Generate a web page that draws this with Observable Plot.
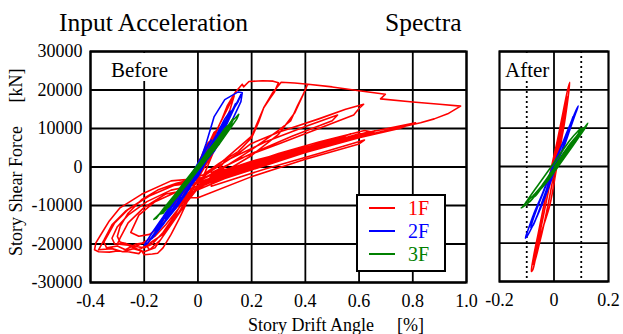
<!DOCTYPE html>
<html>
<head>
<meta charset="utf-8">
<script src="https://cdn.jsdelivr.net/npm/d3@7"></script>
<script src="https://cdn.jsdelivr.net/npm/@observablehq/plot@0.6"></script>
<style>
  html, body { margin: 0; padding: 0; background: #fff; }
  #wrap { position: relative; width: 623px; height: 334px; overflow: hidden; background: #fff; font-family: "Liberation Serif", "DejaVu Serif", serif; }
  #wrap > div { position: absolute; top: 0; }
  #p1 { left: 0; }
  #p2 { left: 470px; }
</style>
</head>
<body>
<div id="wrap">
  <div id="p1"></div>
  <div id="p2"></div>
  <svg id="overlay" width="623" height="334" xmlns="http://www.w3.org/2000/svg"
       style="position:absolute;left:0;top:0;pointer-events:none;font-family:'Liberation Serif','Times New Roman',serif;">
    <text x="59" y="31" font-size="25.5" fill="#000">Input Acceleration</text>
    <text x="385" y="31" font-size="25.5" fill="#000">Spectra</text>
    <text transform="translate(22,191) rotate(-90)" text-anchor="middle" font-size="18" fill="#000">Story Shear Force</text>
    <text transform="translate(22,85.5) rotate(-90)" text-anchor="middle" font-size="18" fill="#000">[kN]</text>
    <text x="248" y="331" font-size="18" fill="#000">Story Drift Angle</text>
    <text x="397" y="331" font-size="18" fill="#000">[%]</text>
    <rect x="93" y="53" width="93" height="28" fill="#fff"></rect>
    <text x="111" y="77" font-size="21" fill="#000">Before</text>
    <rect x="501" y="53" width="51" height="28" fill="#fff"></rect>
    <text x="505" y="77" font-size="21" fill="#000">After</text>
    <g id="legend"></g>
  </svg>
</div>
<script>
// ---- data (story drift angle [%], story shear force [kN]) ----
const floors = ["1F", "2F", "3F"];
const floorColors = ["#ff0000", "#0000ff", "#008000"];

const before1F = [
  [0,0],[0.02,3500],[0.04,6500],[0.03,5500],[-0.01,-1000],[-0.04,-5500],[-0.06,-8000],[-0.05,-7500],[0,-1000],
  [0.04,5000],[0.07,9500],[0.06,9000],[0.01,1500],[-0.05,-6000],[-0.09,-10000],[-0.08,-10500],[-0.03,-5000],
  [0.02,2000],[0.06,8000],[0.09,12500],[0.11,16000],[0.14,19500],[0.165,21500],[0.17,20800],[0.19,22200],
  [0.24,22400],[0.28,22300],[0.3,21900],
  [0.285,19500],[0.27,18000],[0.245,15400],[0.225,11500],[0.2,7600],[0.15,4000],[0.08,1000],[0.02,-2000],[-0.04,-3500],
  [-0.08,-4200],[-0.15,-6000],[-0.21,-8500],[-0.26,-12000],[-0.29,-15500],[-0.3,-18000],[-0.29,-19500],[-0.24,-20500],
  [-0.2,-21000],[-0.17,-20000],[-0.13,-17000],[-0.09,-13000],[-0.05,-8000],[-0.01,-4500],
  [0.04,4000],[0.08,11000],[0.12,16500],[0.135,18500],[0.12,15000],[0.07,6000],[0.02,-2500],
  [0.1,2000],[0.2,8000],[0.245,15400],[0.28,19500],[0.31,22000],[0.36,21800],[0.41,21500],[0.5,20800],[0.6,19800],
  [0.698,18900],[0.68,17700],[0.8,16900],[0.9,16300],[0.978,15800],
  [0.93,13800],[0.88,12500],[0.829,11500],[0.7,9500],[0.55,7000],[0.4,4000],[0.25,1500],[0.1,-1500],[0,-3000],
  [-0.1,-3600],[-0.21,-7100],[-0.29,-10600],[-0.33,-14000],[-0.36,-17400],[-0.38,-19700],[-0.385,-21500],[-0.37,-22000],
  [-0.33,-22100],[-0.3,-21800],[-0.26,-22000],[-0.22,-22500],[-0.21,-21700],[-0.2,-22800],[-0.17,-22600],[-0.15,-22400],
  [-0.13,-21000],[-0.1,-17500],[-0.07,-13500],[-0.04,-9000],[0,-5500],
  [0.05,-2500],[0.15,0],[0.3,3500],[0.45,6500],[0.62,9500],[0.655,9000],[0.5,6200],[0.35,4000],[0.2,1500],[0.05,-2000],[-0.02,-4500],
  [0.05,-1000],[0.15,3500],[0.196,6000],[0.3,9000],[0.45,12500],[0.55,15000],[0.617,16300],[0.6,15200],[0.58,13500],
  [0.45,10000],[0.3,6000],[0.15,2000],[0.02,-3000],
  [-0.08,-4500],[-0.18,-7500],[-0.26,-11000],[-0.31,-14500],[-0.35,-19500],[-0.34,-21000],[-0.3,-20500],[-0.27,-21500],
  [-0.23,-20000],[-0.2,-19700],[-0.18,-21500],[-0.14,-19000],[-0.1,-15000],[-0.05,-10000],[-0.01,-6000],
  [0.1,0],[0.2,4500],[0.3,9500],[0.345,11950],[0.37,15800],[0.4,20000],[0.407,21300],[0.39,18500],[0.36,14000],
  [0.3,8500],[0.2,3000],[0.08,-2000],[-0.02,-5500],
  [0.05,-3000],[0.2,0],[0.4,4500],[0.6,8500],[0.81,11500],[0.75,10000],[0.6,7600],[0.4,3800],[0.2,500],[0.05,-3500],[-0.02,-6000],
  [0.1,-2000],[0.3,2500],[0.5,6500],[0.6,8300],[0.58,8000],[0.4,4200],[0.2,800],[0.05,-3000],[-0.03,-5000],
  [-0.1,-6000],[-0.19,-9000],[-0.26,-12500],[-0.3,-15500],[-0.32,-18500],[-0.31,-20000],[-0.27,-19800],[-0.24,-21000],
  [-0.2,-19500],[-0.16,-18000],[-0.12,-15000],[-0.08,-11500],[-0.03,-7000],
  [0.05,-3500],[0.25,1000],[0.45,5500],[0.64,9200],[0.62,8800],[0.45,5200],[0.25,800],[0.05,-4000],
  [0.15,-1500],[0.35,3500],[0.55,7800],[0.53,7300],[0.35,3000],[0.15,-1800],[0,-5000],
  [-0.08,-6500],[-0.16,-9000],[-0.22,-12500],[-0.25,-17000],[-0.22,-18000],[-0.18,-17500],[-0.14,-15500],[-0.1,-12000],
  [-0.06,-9000],[-0.02,-6000],
  [0.1,-2500],[0.3,2000],[0.5,6000],[0.6,7900],[0.56,7300],[0.4,4000],[0.2,0],[0.05,-3000],
  [0.1,1500],[0.25,6500],[0.4,10500],[0.52,13500],[0.5,12000],[0.35,8000],[0.2,3500],[0.05,-1500],
  [0.2,1000],[0.4,5000],[0.57,8600],[0.55,8200],[0.38,4600],[0.18,300],[0,-4000],
  [-0.09,-4800],[-0.19,-7800],[-0.27,-11500],[-0.32,-15000],[-0.35,-19000],[-0.37,-21500],[-0.32,-21200],[-0.28,-22000],
  [-0.24,-21200],[-0.2,-22000],[-0.16,-21000],[-0.11,-16000],[-0.06,-10500],[-0.02,-6500],
  [0.1,-3000],[0.3,1500],[0.48,5600],[0.63,8700],[0.6,8600],[0.42,5000],[0.22,1000],[0.04,-3500],
  [0.2,-500],[0.42,4800],[0.66,9400],[0.64,9100],[0.45,5800],[0.25,1800],[0.05,-2500],
  [0.15,-800],[0.35,3800],[0.52,7000],[0.5,6700],[0.3,2800],[0.1,-2000],[-0.04,-6000],
  [-0.12,-7000],[-0.2,-10500],[-0.26,-14500],[-0.29,-18500],[-0.3,-20000],[-0.26,-20300],[-0.22,-21500],[-0.18,-19800],
  [-0.13,-17500],[-0.08,-12500],[-0.03,-8000],
  [0,-8000],[0.2,-2500],[0.4,2000],[0.6,6000],[0.62,7000],[0.45,3500],[0.25,-500],[0.05,-5000],
  [0.05,-2000],[0.2,1500],[0.45,6000],[0.58,8100],[0.55,7600],[0.35,3600],[0.15,-500],[0,-3000],
  [0.05,3000],[0.1,9000],[0.08,7000],[0.02,0]
];

const before2F = [
  [0,0],[0.03,4500],[0.05,7000],[0.04,6000],[0,1000],[-0.04,-4000],[-0.06,-6500],[-0.05,-6000],[-0.01,-1500],
  [0.03,3500],[0.07,8500],[0.1,12500],[0.12,14500],[0.115,13000],[0.08,9000],[0.03,3000],[-0.03,-3500],[-0.08,-9500],
  [-0.12,-13500],[-0.11,-13000],[-0.07,-9500],[-0.02,-4000],
  [0.03,6000],[0.06,13000],[0.1,17500],[0.15,19500],[0.165,19300],[0.16,17000],[0.12,11000],[0.06,4000],
  [0,-1000],[-0.08,-7500],[-0.13,-13000],[-0.17,-17000],[-0.2,-20300],[-0.19,-20000],[-0.16,-17500],[-0.12,-14000],
  [-0.08,-10500],[-0.04,-6500],[0,-2000],
  [0.05,4000],[0.1,10000],[0.14,16000],[0.16,18800],[0.15,17000],[0.11,12500],[0.06,6500],[0,0],[-0.06,-6000],
  [-0.12,-12500],[-0.16,-16500],[-0.15,-16500],[-0.11,-13000],[-0.06,-8000],[-0.02,-3500],
  [0.04,3000],[0.08,8000],[0.12,13500],[0.14,16500],[0.13,15000],[0.09,10500],[0.04,4500],[-0.01,-1000],
  [-0.07,-7500],[-0.14,-15000],[-0.18,-19000],[-0.17,-18500],[-0.13,-15000],[-0.09,-11000],[-0.05,-7000],[0,-2500],
  [0.05,4000],[0.09,9500],[0.06,7000],[0,0]
];

const before3F = [
  [0,0],[0.03,3000],[0.05,5000],[0.04,4500],[0,500],[-0.04,-3500],[-0.06,-5500],[-0.05,-5000],[-0.01,-1000],
  [0.03,3500],[0.07,7000],[0.1,9500],[0.12,11500],[0.115,10500],[0.08,7000],[0.04,3000],[-0.02,-2500],[-0.07,-6500],
  [-0.11,-9500],[-0.13,-11500],[-0.12,-11000],[-0.08,-8000],[-0.03,-3500],
  [0.03,2500],[0.08,7500],[0.12,11500],[0.14,12800],[0.152,13700],[0.145,12500],[0.12,10000],[0.08,6000],[0.02,1000],
  [-0.04,-4500],[-0.1,-9500],[-0.14,-12000],[-0.164,-13600],[-0.155,-13300],[-0.13,-11000],[-0.09,-7500],[-0.04,-3000],
  [0.01,1500],[0.06,6000],[0.1,10000],[0.13,12000],[0.12,11000],[0.09,7500],[0.05,3500],[0,-500],[-0.05,-5000],
  [-0.1,-9000],[-0.14,-12200],[-0.13,-12000],[-0.1,-9500],[-0.06,-5500],[-0.02,-1500],
  [0.04,4000],[0.09,8500],[0.13,12500],[0.125,11000],[0.1,8500],[0.06,4500],[0.01,0],[-0.05,-4500],[-0.09,-8000],
  [-0.12,-10500],[-0.11,-10500],[-0.07,-7000],[-0.03,-3000],[0,0]
];

const after1F = [
  [0,0],[0.01,3000],[0.03,8000],[0.048,16000],[0.058,22000],[0.05,20000],[0.03,13000],[0.01,6000],[-0.012,-1000],
  [-0.037,-10000],[-0.058,-17500],[-0.075,-23500],[-0.083,-27400],[-0.078,-27000],[-0.065,-23000],[-0.045,-17000],
  [-0.015,-10000],[0.008,-1000],[0.03,8000],[0.045,15000],[0.052,18500],[0.046,17000],[0.03,11000],[0.012,5000],
  [-0.005,-1000],[-0.025,-8000],[-0.045,-15000],[-0.065,-21500],[-0.077,-25500],[-0.072,-25000],[-0.055,-20500],
  [-0.035,-14500],[-0.015,-7500],[0.003,-500],[0.02,5500],[0.035,11000],[0.042,13500],[0.036,11800],[0.02,6500],
  [0.005,2000],[0,0]
];

const after2F = [
  [0,0],[0.03,4000],[0.06,10000],[0.08,14000],[0.089,15800],[0.08,14500],[0.055,10000],[0.025,5000],[-0.01,-1000],
  [-0.045,-7500],[-0.075,-12500],[-0.095,-16500],[-0.105,-18700],[-0.097,-18000],[-0.075,-15000],[-0.05,-11000],
  [-0.025,-6500],[0,-1500],[0.03,4500],[0.055,9500],[0.07,13000],[0.065,12000],[0.045,8500],[0.02,4000],[-0.005,-500],
  [-0.035,-6000],[-0.06,-10500],[-0.08,-14500],[-0.085,-16000],[-0.078,-15500],[-0.06,-12500],[-0.04,-8500],
  [-0.02,-4500],[0,0]
];

const after3F = [
  [0,0],[0.03,3000],[0.06,6000],[0.09,8500],[0.11,10000],[0.124,11300],[0.118,10500],[0.1,8500],[0.07,5500],[0.04,2500],
  [0.01,-500],[-0.02,-3500],[-0.05,-6000],[-0.08,-8500],[-0.1,-9800],[-0.12,-10800],[-0.115,-10500],[-0.09,-8000],
  [-0.06,-5000],[-0.03,-2000],[0,1000],[0.03,4000],[0.06,7000],[0.085,9000],[0.1,10000],[0.095,9200],[0.07,6500],
  [0.04,3500],[0.01,500],[-0.02,-2500],[-0.05,-5500],[-0.075,-7500],[-0.095,-9000],[-0.09,-9200],[-0.065,-7000],
  [-0.04,-4500],[-0.01,-1500],[0.02,1500],[0.05,4500],[0.075,7000],[0.09,8000],[0.08,7000],[0.055,4500],[0.025,1500],
  [0,-1000],[-0.03,-4000],[-0.06,-6500],[-0.08,-8000],[-0.07,-7800],[-0.045,-5500],[-0.015,-2500],[0.015,500],
  [0.045,3800],[0.07,6200],[0.1,9200],[0.11,10200],[0.1,9500],[0.075,7200],[0.05,5000],[0.02,2000],[0,0]
];

const xTicksBefore = [-0.4, -0.2, 0, 0.2, 0.4, 0.6, 0.8, 1.0];
const xLabelsBefore = ["-0.4", "-0.2", "0", "0.2", "0.4", "0.6", "0.8", "1.0"];
const xTicksAfter = [-0.2, 0, 0.2];
const xLabelsAfter = ["-0.2", "0", "0.2"];
const xDottedAfter = [-0.1, 0.1];
const yTicks = [-30000, -20000, -10000, 0, 10000, 20000, 30000];
const yLabels = ["-30000", "-20000", "-10000", "0", "10000", "20000", "30000"];

// ---- rendering ----
const toRows = (arr) => arr.map(([x, y]) => ({x, y}));
const lab = (ticks, labels) => (d) => labels[ticks.indexOf(d)];
const gridStyle = {stroke: "#000", strokeOpacity: 1, strokeWidth: 1.8};
const lineStyle = {strokeWidth: 1.6, strokeLinejoin: "round", strokeLinecap: "round"};
const plotStyle = {fontFamily: "'Liberation Serif', 'Times New Roman', serif", fontSize: "18px", color: "#000", background: "transparent", overflow: "visible"};

const p1 = Plot.plot({
  width: 480, height: 334,
  marginLeft: 90, marginRight: 14, marginTop: 51, marginBottom: 52,
  style: plotStyle,
  x: {domain: [-0.4, 1.0], axis: null},
  y: {domain: [-30000, 30000], axis: null},
  marks: [
    Plot.gridX(xTicksBefore, gridStyle),
    Plot.gridY(yTicks, gridStyle),
    Plot.line(toRows(before1F), {x: "x", y: "y", stroke: floorColors[0], ...lineStyle}),
    Plot.line(toRows(before2F), {x: "x", y: "y", stroke: floorColors[1], ...lineStyle}),
    Plot.line(toRows(before3F), {x: "x", y: "y", stroke: floorColors[2], ...lineStyle}),
    Plot.frame({stroke: "#000", strokeWidth: 2.2}),
    Plot.axisX(xTicksBefore, {tickFormat: lab(xTicksBefore, xLabelsBefore), tickSize: 0, tickPadding: 12, label: null, fontSize: 18}),
    Plot.axisY(yTicks, {tickFormat: lab(yTicks, yLabels), tickSize: 0, tickPadding: 8, label: null, fontSize: 18})
  ]
});
document.getElementById("p1").appendChild(p1);

const p2 = Plot.plot({
  width: 153, height: 334,
  marginLeft: 29, marginRight: 15, marginTop: 51, marginBottom: 53,
  style: plotStyle,
  x: {domain: [-0.2, 0.2], axis: null},
  y: {domain: [-30000, 30000], axis: null},
  marks: [
    Plot.gridX([0], gridStyle),
    Plot.gridY(yTicks, gridStyle),
    Plot.ruleX(xDottedAfter, {stroke: "#000", strokeWidth: 1.8, strokeDasharray: "2,3"}),
    Plot.line(toRows(after1F), {x: "x", y: "y", stroke: floorColors[0], curve: "catmull-rom", ...lineStyle}),
    Plot.line(toRows(after2F), {x: "x", y: "y", stroke: floorColors[1], curve: "catmull-rom", ...lineStyle}),
    Plot.line(toRows(after3F), {x: "x", y: "y", stroke: floorColors[2], curve: "catmull-rom", ...lineStyle}),
    Plot.frame({stroke: "#000", strokeWidth: 2.2}),
    Plot.axisX(xTicksAfter, {tickFormat: lab(xTicksAfter, xLabelsAfter), tickSize: 0, tickPadding: 12, label: null, fontSize: 18})
  ]
});
document.getElementById("p2").appendChild(p2);

// legend
const ns = "http://www.w3.org/2000/svg";
const lg = document.getElementById("legend");
const box = document.createElementNS(ns, "rect");
box.setAttribute("x", 357); box.setAttribute("y", 195); box.setAttribute("width", 88); box.setAttribute("height", 76);
box.setAttribute("fill", "#fff"); box.setAttribute("stroke", "#000"); box.setAttribute("stroke-width", 2);
lg.appendChild(box);
floors.forEach((f, i) => {
  const yy = 208 + i * 23;
  const ln = document.createElementNS(ns, "line");
  ln.setAttribute("x1", 369); ln.setAttribute("x2", 395); ln.setAttribute("y1", yy); ln.setAttribute("y2", yy);
  ln.setAttribute("stroke", floorColors[i]); ln.setAttribute("stroke-width", 2);
  lg.appendChild(ln);
  const tx = document.createElementNS(ns, "text");
  tx.setAttribute("x", 408); tx.setAttribute("y", yy + 7); tx.setAttribute("font-size", 20);
  tx.setAttribute("fill", floorColors[i]); tx.textContent = f;
  lg.appendChild(tx);
});
</script>
</body>
</html>
